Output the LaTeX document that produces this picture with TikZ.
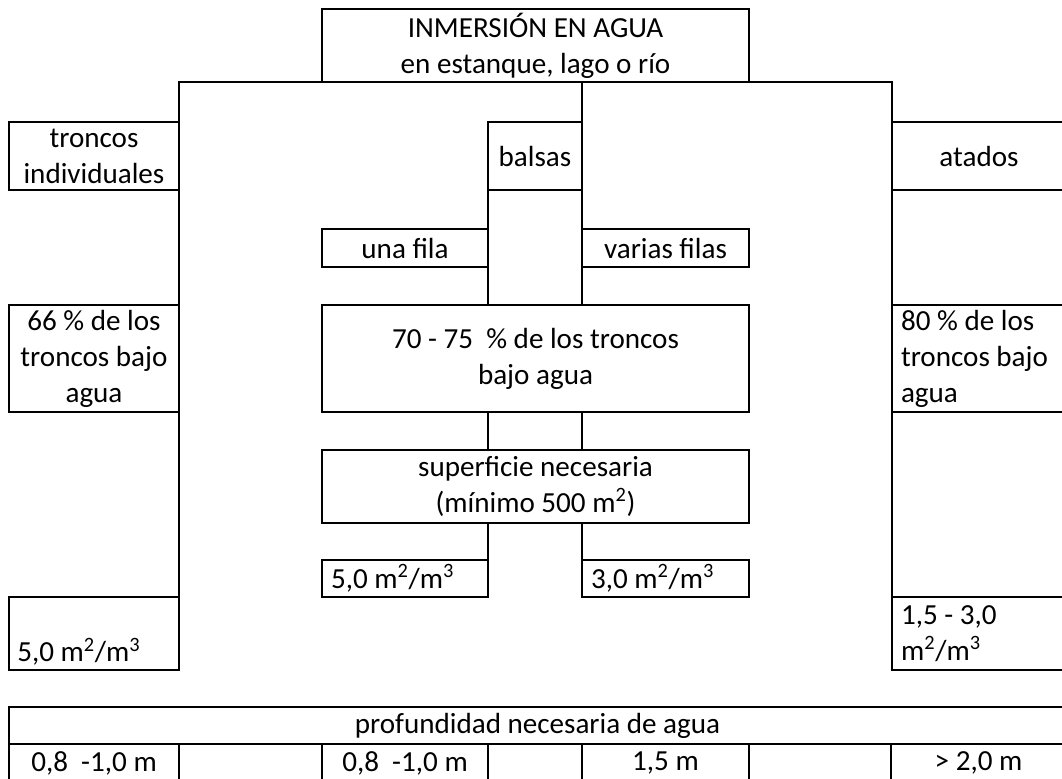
\documentclass[tikz,border=0pt]{standalone}
\usepackage{fontspec}
\setmainfont{Carlito}
\usepackage{tikz}
\usetikzlibrary{positioning}

\tikzset{
  cell/.style 2 args={draw, line width=1.5pt, inner sep=0pt, outer sep=0pt,
    minimum width=#1*0.025cm, minimum height=#2*0.025cm, anchor=north west,
    align=center, font=\fontsize{20.7pt}{25.6pt}\selectfont},
  lcell/.style 2 args={cell={#1}{#2}, text width=(#1-18)*0.025cm, align=flush left},
  link/.style={line width=1.5pt, line cap=rect}
}

\begin{document}
\begin{tikzpicture}[x=0.025cm, y=-0.025cm]
        \useasboundingbox (0,0) rectangle (1062,778);
        % top row
        \node[cell={427}{73}] (top) at (322,9) {INMERSIÓN EN AGUA\\en estanque, lago o río};
        \node[cell={170}{68}] (indiv) at (9,122) {troncos\\individuales};
        \node[cell={94}{68}] (balsas) at (488,122) {balsas};
        \node[cell={174}{68}] (atados) at (892,122) {atados};
        \node[cell={166}{38}] (unafila) at (322,229) {una fila};
        \node[cell={167}{38}] (varias) at (582,229) {varias filas};
        % percentages
        \node[cell={170}{107}] (pindiv) at (9,305) {66 \% de los\\troncos bajo\\agua};
        \node[cell={427}{107}] (pbalsas) at (322,305) {70 - 75 \ \% de los troncos\\bajo agua};
        \node[lcell={174}{107}] (patados) at (892,305) {80 \% de los\\troncos bajo\\agua};
        \node[cell={427}{73}] (sup) at (322,450) {superficie necesaria\\(mínimo 500 m\textsuperscript{2})};
        % areas
        \node[lcell={166}{37}] (auna) at (322,560) {5,0 m\textsuperscript{2}/m\textsuperscript{3}};
        \node[lcell={167}{37}] (avarias) at (582,560) {3,0 m\textsuperscript{2}/m\textsuperscript{3}};
        \node[cell={170}{73}] (aindiv) at (9,597) {};
        \node[anchor=south west, inner xsep=8*0.025cm, inner ysep=3pt,
              font=\fontsize{20.7pt}{25.6pt}\selectfont] (aindivtxt) at (aindiv.south west)
              {5,0 m\textsuperscript{2}/m\textsuperscript{3}};
        \node[lcell={174}{73}] (aatados) at (892,597) {1,5 - 3,0\\m\textsuperscript{2}/m\textsuperscript{3}};
        % depth table
        \node[cell={1057}{37}] (prof) at (9,707) {profundidad necesaria de agua};
        \node[cell={170}{38}] (d1) at (9,744) {0,8 \ -1,0 m};
        \node[cell={143}{38}] (d2) at (179,744) {};
        \node[cell={166}{38}] (d3) at (322,744) {0,8 \ -1,0 m};
        \node[cell={94}{38}] (d4) at (488,744) {};
        \node[cell={167}{38}] (d5) at (582,744) {1,5 m};
        \node[cell={142}{38}] (d6) at (749,744) {};
        \node[cell={175}{38}] (d7) at (891,744) {> 2,0 m};
        % connectors
        \draw[link] (top.south -| indiv.east) -- (top.south -| atados.west);
        \draw[link] (top.south -| indiv.east) -- (aindiv.north east);
        \draw[link] (top.south -| atados.west) -- (aatados.north west);
        \draw[link] (top.south -| balsas.east) -- (pbalsas.north -| balsas.east);
        \draw[link] (balsas.north west) -- (pbalsas.north -| balsas.west);
        \draw[link] (pbalsas.south -| balsas.west) -- (sup.north -| balsas.west);
        \draw[link] (pbalsas.south -| balsas.east) -- (sup.north -| balsas.east);
        \draw[link] (sup.south -| auna.east) -- (auna.north east);
        \draw[link] (sup.south -| avarias.west) -- (avarias.north west);
    \end{tikzpicture}
\end{document}
